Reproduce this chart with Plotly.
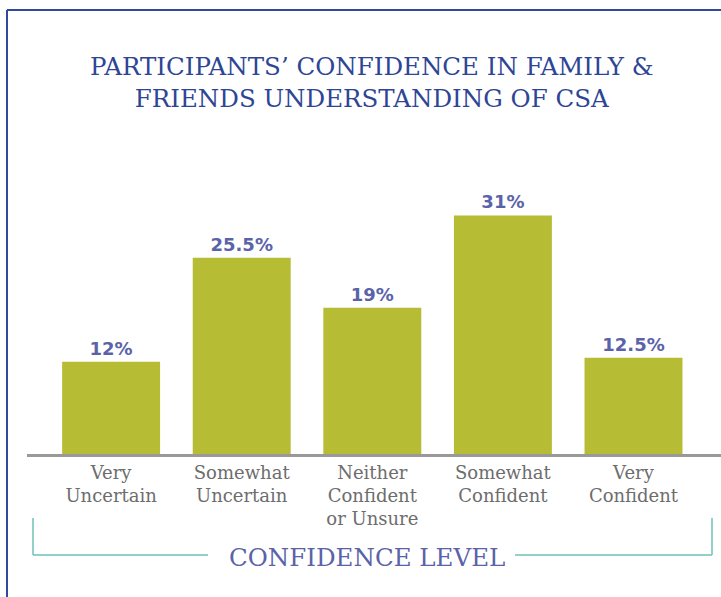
import plotly.graph_objects as go

categories = ["Very<br>Uncertain", "Somewhat<br>Uncertain", "Neither<br>Confident<br>or Unsure",
              "Somewhat<br>Confident", "Very<br>Confident"]
values = [12, 25.5, 19, 31, 12.5]
labels = ["12%", "25.5%", "19%", "31%", "12.5%"]

W, H = 721, 597
ML, MR, MT, MB = 27, 0, 180, 143
PW = W - ML - MR
PH = H - MT - MB

def px(x):
    return (x - ML) / PW

def py(y):
    return (H - MB - y) / PH

xs = list(range(len(values)))

fig = go.Figure(go.Bar(
    x=xs, y=values,
    text=labels, textposition="outside", cliponaxis=False,
    textfont=dict(family="DejaVu Sans", size=18, color="#5b63a8", weight="bold"),
    marker=dict(color="#b6bc34", line=dict(width=0)),
    width=0.75,
))

teal = "#6cc2b6"
border = "#2f4a9c"
shapes = [
    dict(type="line", xref="paper", yref="paper", x0=px(7), x1=px(7), y0=py(10), y1=py(600),
         line=dict(color=border, width=2)),
    dict(type="line", xref="paper", yref="paper", x0=px(7), x1=px(725), y0=py(10), y1=py(10),
         line=dict(color=border, width=2)),
    # bracket
    dict(type="line", xref="paper", yref="paper", x0=px(33), x1=px(33), y0=py(518), y1=py(555),
         line=dict(color=teal, width=1.5)),
    dict(type="line", xref="paper", yref="paper", x0=px(33), x1=px(208), y0=py(555), y1=py(555),
         line=dict(color=teal, width=1.5)),
    dict(type="line", xref="paper", yref="paper", x0=px(515), x1=px(712), y0=py(555), y1=py(555),
         line=dict(color=teal, width=1.5)),
    dict(type="line", xref="paper", yref="paper", x0=px(712), x1=px(712), y0=py(518), y1=py(555),
         line=dict(color=teal, width=1.5)),
]

annotations = [
    dict(text="PARTICIPANTS’ CONFIDENCE IN FAMILY &<br>FRIENDS UNDERSTANDING OF CSA",
         xref="paper", yref="paper", x=px(372), y=py(82), showarrow=False,
         xanchor="center", yanchor="middle",
         font=dict(family="DejaVu Serif", size=24.5, color="#2e4596")),
    dict(text="CONFIDENCE LEVEL", xref="paper", yref="paper", x=px(367), y=py(557),
         showarrow=False, xanchor="center", yanchor="middle",
         font=dict(family="DejaVu Serif", size=24.5, color="#5b63a8")),
]

fig.update_layout(
    width=W, height=H,
    margin=dict(l=ML, r=MR, t=MT, b=MB),
    paper_bgcolor="white", plot_bgcolor="white",
    showlegend=False,
    shapes=shapes, annotations=annotations,
    bargap=0.25,
)
fig.update_xaxes(
    range=[-0.644, 4.67], tickvals=xs, ticktext=categories,
    tickfont=dict(family="DejaVu Serif", size=18, color="#6d6d6d"),
    showline=True, linecolor="#999999", linewidth=3, showgrid=False, zeroline=False,
    ticks="", fixedrange=True,
)
fig.update_yaxes(range=[0, 35.6], visible=False, showgrid=False, zeroline=False, fixedrange=True)

fig.write_html("out.html", config={"displayModeBar": False},
               post_script="document.body.style.margin='0';document.body.style.padding='0';")
